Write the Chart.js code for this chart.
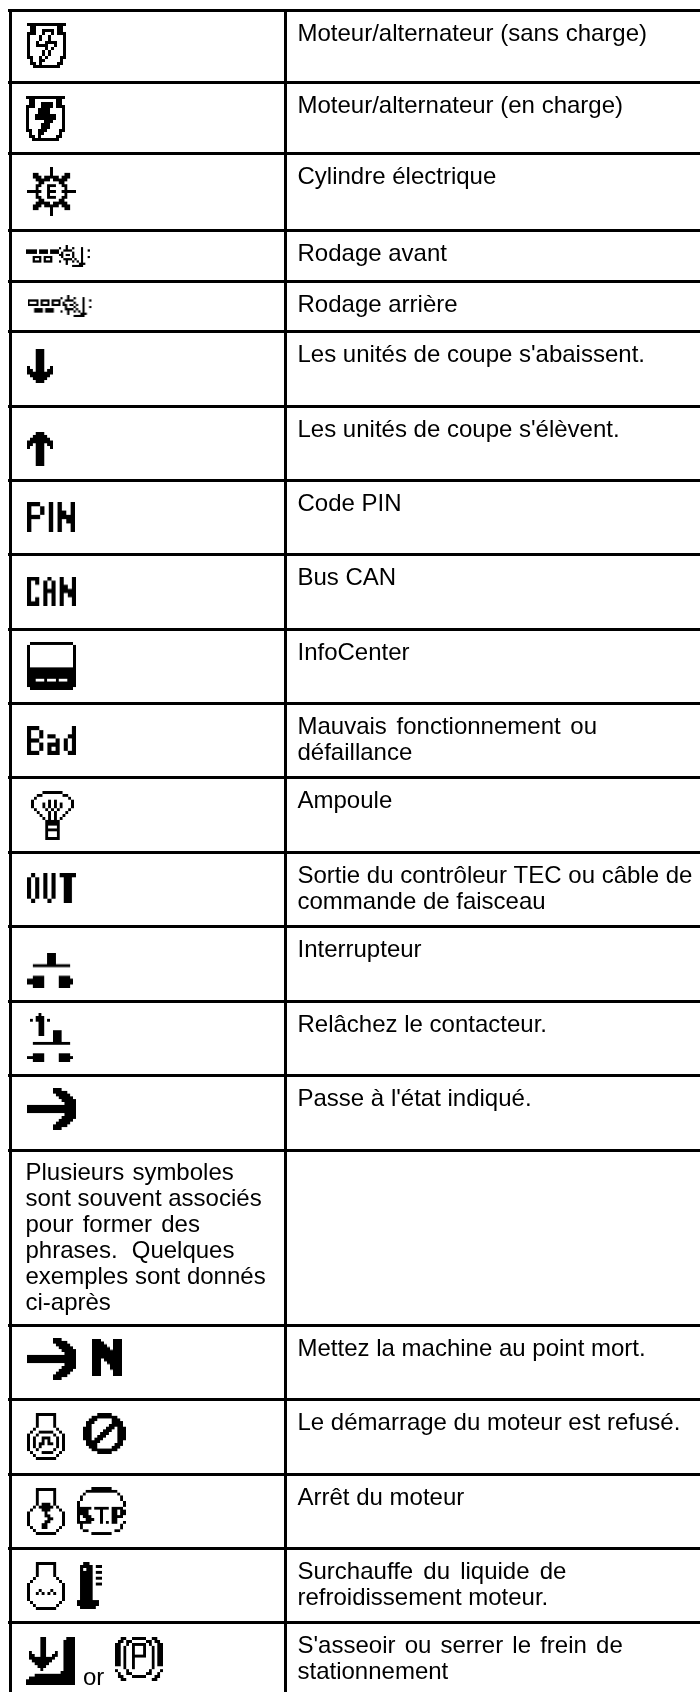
<!DOCTYPE html>
<html>
<head>
<meta charset="utf-8">
<style>
  html, body { margin: 0; padding: 0; background: #fff; }
  canvas { display: block; }
</style>
<script src="https://cdn.jsdelivr.net/npm/chart.js@4/dist/chart.umd.min.js"></script>
</head>
<body>
<canvas id="symbolTable" width="700" height="1692"></canvas>
<script>
// table rules
var rowEdges = [10.5, 82, 153.5, 230, 281, 331, 406, 480, 554, 629, 703, 777, 852, 926, 1001, 1075, 1150, 1325, 1399, 1474, 1548, 1622];
var colEdges = [10.5, 285.5];

// right column, one entry per row
var rowLabels = [
  ['Moteur/alternateur (sans charge)'],
  ['Moteur/alternateur (en charge)'],
  ['Cylindre électrique'],
  ['Rodage avant'],
  ['Rodage arrière'],
  ["Les unités de coupe s'abaissent."],
  ["Les unités de coupe s'élèvent."],
  ['Code PIN'],
  ['Bus CAN'],
  ['InfoCenter'],
  ['Mauvais fonctionnement ou', 'défaillance'],
  ['Ampoule'],
  ['Sortie du contrôleur TEC ou câble de', 'commande de faisceau'],
  ['Interrupteur'],
  ['Relâchez le contacteur.'],
  ["Passe à l'état indiqué."],
  [],
  ['Mettez la machine au point mort.'],
  ['Le démarrage du moteur est refusé.'],
  ['Arrêt du moteur'],
  ['Surchauffe du liquide de', 'refroidissement moteur.'],
  ["S'asseoir ou serrer le frein de", 'stationnement']
];

var noteRow = 16;
var noteLines = ['Plusieurs symboles', 'sont souvent associés', 'pour former des', 'phrases. Quelques', 'exemples sont donnés', 'ci-après'];

// justified lines in the source, set with wider spaces
var wideLines = ['Mauvais fonctionnement ou', 'Surchauffe du liquide de', "S'asseoir ou serrer le frein de", 'Plusieurs symboles', 'pour former des', 'phrases. Quelques'];
var wideGaps = [3, 3.5, 2.5, 1.5, 2.5, 7.5];

// which glyph sits where
var iconNames = ['motorOff', 'motorOn', 'cylinder', 'rodAvant', 'rodArriere', 'down', 'up', 'pin', 'can', 'info', 'bad', 'bulb', 'out', 'sw', 'release', 'arrow', 'arrow', 'neutral', 'engineStart', 'forbid', 'engineStop', 'stop', 'engineHot', 'thermo', 'sit', 'parking'];
var iconX = [46.5, 45.5, 51.5, 59, 60.5, 40, 40, 51, 51.5, 51.5, 51.5, 52.5, 51.5, 51.5, 51.5, 51.5, 51.5, 107, 46, 104.5, 46, 101.5, 46, 89.5, 50.5, 139];
var iconY = [45.5, 118.5, 191.5, 256, 306, 366, 449, 517, 591, 666, 740.5, 815.5, 888, 970, 1037.5, 1109, 1359, 1357, 1436.5, 1433.5, 1511.5, 1511, 1586, 1585.5, 1661, 1659];

// LCD glyphs as little bitmaps, [width, height, rows]
var glyphs = {
  motorOff: [39, 45, ['#############', '.##.......##.', '.##..####.##.', '###..#..#.###', '#...#..#....#', '#...#..#....#', '#..#..####..#', '#..####..#..#', '#.....#.#...#', '#....#.#....#', '#....#.#....#', '##..#.#....##', '.#..##.....#.', '.##.#.....##.', '..#########..']],
  motorOn: [39, 45, ['#############', '.##.......##.', '.##..####.##.', '###..####.###', '#...####....#', '#...####....#', '#..#######..#', '#..#######..#', '#.....###...#', '#....###....#', '#....###....#', '##..###....##', '.#..##.....#.', '.##.#.....##.', '..#########..']],
  cylinder: [49, 49, ['........#........', '........#........', '..##....#....##..', '..###.#####.###..', '...#####.#####...', '....##.....##....', '...##..###..##...', '...#...#.....#...', '#####..###..#####', '...#...#.....#...', '...##..###..##...', '....##.....##....', '...#####.#####...', '..###.#####.###..', '..##....#....##..', '........#........', '........#........']],
  rodAvant: [66, 22, ['..................#...........', '...............#..#..#...#....', '#####.####.####..####....#..#.', '#####.####.####.#....#...#....', '...............##.##.#...#....', '...####.####....#....#...#..#.', '...#..#.#..#.....####.#..#....', '...####.####...#..#..#.#.#....', '..................#.....###...', '.....................#####....']],
  rodArriere: [66, 22, ['..................#...........', '...............#..#..#...#....', '#####.####.####..####....#..#.', '#...#.#..#.#..#.#....#...#....', '#####.####.####.##.##.#..#....', '.................#...#...#..#.', '...####.####.....####.#..#....', '...####.####...#..#..#.#.#....', '..................#.....###...', '.....................#####....']],
  down: [26, 34, ['...###...', '...###...', '...###...', '...###...', '...###...', '...###...', '#..###..#', '##.###.##', '#########', '.#######.', '..#####..', '...###...']],
  up: [26, 34, ['...###...', '..#####..', '.#######.', '#########', '##.###.##', '#..###..#', '...###...', '...###...', '...###...', '...###...', '...###...', '...###...']],
  pin: [48, 30, ['###..#.#..#', '#..#.#.#..#', '#..#.#.##.#', '###..#.####', '#....#.#.##', '#....#.#..#', '#....#.#..#']],
  can: [49, 29, ['###..#..#..#', '#.#.#.#.#..#', '#...#.#.##.#', '#...###.####', '#...#.#.#.##', '#.#.#.#.#..#', '###.#.#.#..#']],
  info: [49, 48, ['.###############.', '#...............#', '#...............#', '#...............#', '#...............#', '#...............#', '#...............#', '#...............#', '#...............#', '#################', '#################', '#################', '#################', '###...#...#...###', '#################', '#################', '.###############.']],
  bad: [49, 29, ['###........#', '#..#.......#', '#..#.##...##', '###....#.#.#', '#..#.###.#.#', '#..#.#.#.#.#', '###..###..##']],
  bulb: [43, 49, ['....#######....', '..##.......##..', '.#...........#.', '#.....#.#.....#', '#...#.#.#.#...#', '#...#.#.#.#...#', '.#...#.#.#...#.', '..#...#.#...#..', '...#..#.#..#...', '....#.#.#.#....', '.....#####.....', '.....#####.....', '.....#...#.....', '.....#####.....', '.....#...#.....', '.....#...#.....', '.....#####.....']],
  out: [49, 30, ['.#..#.#.####', '#.#.#.#..##.', '#.#.#.#..##.', '#.#.#.#..##.', '#.#.#.#..##.', '#.#.#.#..##.', '.#...#...##.']],
  sw: [49, 35, ['.......###.......', '.......###.......', '.......###.......', '.......###.......', '..#############..', '.................', '.................', '.................', '..####.....####..', '######.....#####.', '######.....#####.', '..####.....####..']],
  release: [49, 49, ['....#............', '...###...........', '.#.###.#.........', '....##...........', '....##...........', '....##...........', '....##...###.....', '....##...###.....', '.........###.....', '.........###.....', '..#############..', '.................', '.................', '.................', '..####.....####..', '######.....#####.', '..####.....####..']],
  arrow: [49, 42, ['.........###.....', '.........#####...', '..........#####..', '...........#####.', '............#####', '.............####', '#################', '#################', '#################', '.............####', '............#####', '...........#####.', '..........#####..', '.........#####...', '.........###.....']],
  neutral: [30, 37, ['###....###', '####...###', '#####..###', '######.###', '##########', '##########', '##########', '###.######', '###..#####', '###...####', '###...####', '###....###', '###....###']],
  engineStart: [38, 47, ['...#######...', '...#.....#...', '...#.....#...', '...#.....#...', '...#.....#...', '..#.......#..', '.#..#####..#.', '#..#.....#..#', '#.#..###..#.#', '#.#..#.#..#.#', '#.#.##.##.#.#', '#.#.#.....#.#', '#..#.....#..#', '.#...####..#.', '..#.......#..', '...#######...']],
  forbid: [43, 41, ['.....#####.....', '...#########...', '..###.....###..', '.###......####.', '.##......#####.', '###.....###.###', '###....###..###', '###...###...###', '###..###....###', '###.###.....###', '.#####......##.', '.####......###.', '..###.....###..', '...#########...', '.....#####.....']],
  engineStop: [38, 47, ['...#######...', '...#.....#...', '...#.....#...', '...#.....#...', '...#.....#...', '...#.###.#...', '..#.#####.#..', '.#...###...#.', '#.....#.....#', '#.....##....#', '#......##...#', '#.....##....#', '#....##.....#', '.#...##....#.', '..#.......#..', '...#######...']],
  stop: [49, 48, ['.....#######.....', '...###########...', '..#...........#..', '.#.............#.', '.#.............#.', '#...............#', '#...............#', '#####.#####.####.', '####....#...##.##', '####....#...##.##', '#.###...#...####.', '#..###..#...##...', '#####...#.#.##..#', '.#.............#.', '.#.............#.', '..##.........##..', '.....#######.....']],
  engineHot: [38, 48, ['...#######...', '...#.....#...', '...#.....#...', '...#.....#...', '...#.....#...', '..#.......#..', '.#.........#.', '#...........#', '#...........#', '#...#...#...#', '#..#.#.#.#..#', '#...........#', '#...........#', '.#.........#.', '..#.......#..', '...#######...']],
  thermo: [25, 47, ['..##....', '.####.##', '.#.##...', '.####.##', '.####...', '.####.##', '.####...', '.####.##', '.####...', '.####...', '.####...', '.####...', '.####...', '#######.', '#######.', '.#####..']],
  sit: [49, 48, ['.....##.......###', '.....##......####', '.....##......####', '.....##......####', '.....##......####', '.#...##...#..####', '.##..##..##..####', '.#########...####', '..#######....####', '...#####.....####', '....###......####', '.....#.......####', '............#####', '...##############', '.################', '#################', '#################']],
  parking: [48, 44, ['..##..#####..##..', '.##.##.....##.##.', '##..#.#####.#..##', '##.#..#...#..#.##', '##.#..#...#..#.##', '##.#..#...#..#.##', '##.#..#####..#.##', '##.#..#......#.##', '##.#..#......#.##', '##.#..#......#.##', '...#..#......#...', '#...#.......#...#', '.#..##.....##..#.', '.##...#####...##.', '..##.........##..']]
};

// the word "or" between the two last icons
var orLabel = { text: 'or', x: 83, y: 1685 };

function glyphCanvas(g) {
  var rows = g[2], cols = rows[0].length, k = 4;
  var big = document.createElement('canvas');
  big.width = cols * k;
  big.height = rows.length * k;
  var b = big.getContext('2d');
  b.fillStyle = '#000';
  rows.forEach(function (row, r) {
    for (var c = 0; c < row.length; c++) {
      if (row[c] === '#') b.fillRect(c * k, r * k, k, k);
    }
  });
  var out = document.createElement('canvas');
  out.width = g[0];
  out.height = g[1];
  var o = out.getContext('2d');
  o.imageSmoothingEnabled = true;
  o.imageSmoothingQuality = 'high';
  o.drawImage(big, 0, 0, g[0], g[1]);
  return out;
}

function putText(ctx, line, x, y) {
  var i = wideLines.indexOf(line);
  ctx.wordSpacing = (i >= 0 ? wideGaps[i] : 0) + 'px';
  ctx.fillText(line, x, y);
}

var tableText = {
  id: 'tableText',
  afterDatasetsDraw: function (chart) {
    var ctx = chart.ctx, sx = chart.scales.x, sy = chart.scales.y;
    ctx.save();
    ctx.fillStyle = '#000';
    ctx.font = '24px "Liberation Sans", Arial, sans-serif';
    ctx.textBaseline = 'alphabetic';
    rowLabels.forEach(function (lines, i) {
      lines.forEach(function (line, j) {
        putText(ctx, line, sx.getPixelForValue(297.5), sy.getPixelForValue(rowEdges[i] + 30.5 + j * 26));
      });
    });
    noteLines.forEach(function (line, j) {
      putText(ctx, line, sx.getPixelForValue(25.5), sy.getPixelForValue(rowEdges[noteRow] + 30 + j * 26));
    });
    putText(ctx, orLabel.text, sx.getPixelForValue(orLabel.x), sy.getPixelForValue(orLabel.y));
    ctx.restore();
  }
};

new Chart(document.getElementById('symbolTable'), {
  type: 'scatter',
  data: {
    datasets: [{
      data: iconX.map(function (x, i) { return { x: x, y: iconY[i] }; }),
      pointStyle: iconNames.map(function (n) { return glyphCanvas(glyphs[n]); }),
      showLine: false
    }]
  },
  options: {
    responsive: false,
    animation: false,
    devicePixelRatio: 1,
    layout: { autoPadding: false, padding: { left: 8, top: 9, right: 0, bottom: 0 } },
    plugins: { legend: { display: false }, tooltip: { enabled: false } },
    events: [],
    scales: {
      x: {
        type: 'linear', min: 8, max: 700,
        afterBuildTicks: function (s) { s.ticks = colEdges.map(function (v) { return { value: v }; }); },
        ticks: { display: false },
        border: { display: false },
        grid: { color: '#000', lineWidth: 3, drawTicks: false }
      },
      y: {
        type: 'linear', min: 9, max: 1692, reverse: true,
        afterBuildTicks: function (s) { s.ticks = rowEdges.map(function (v) { return { value: v }; }); },
        ticks: { display: false },
        border: { display: false },
        grid: { color: '#000', lineWidth: 3, drawTicks: false }
      }
    }
  },
  plugins: [tableText]
});
</script>
</body>
</html>
